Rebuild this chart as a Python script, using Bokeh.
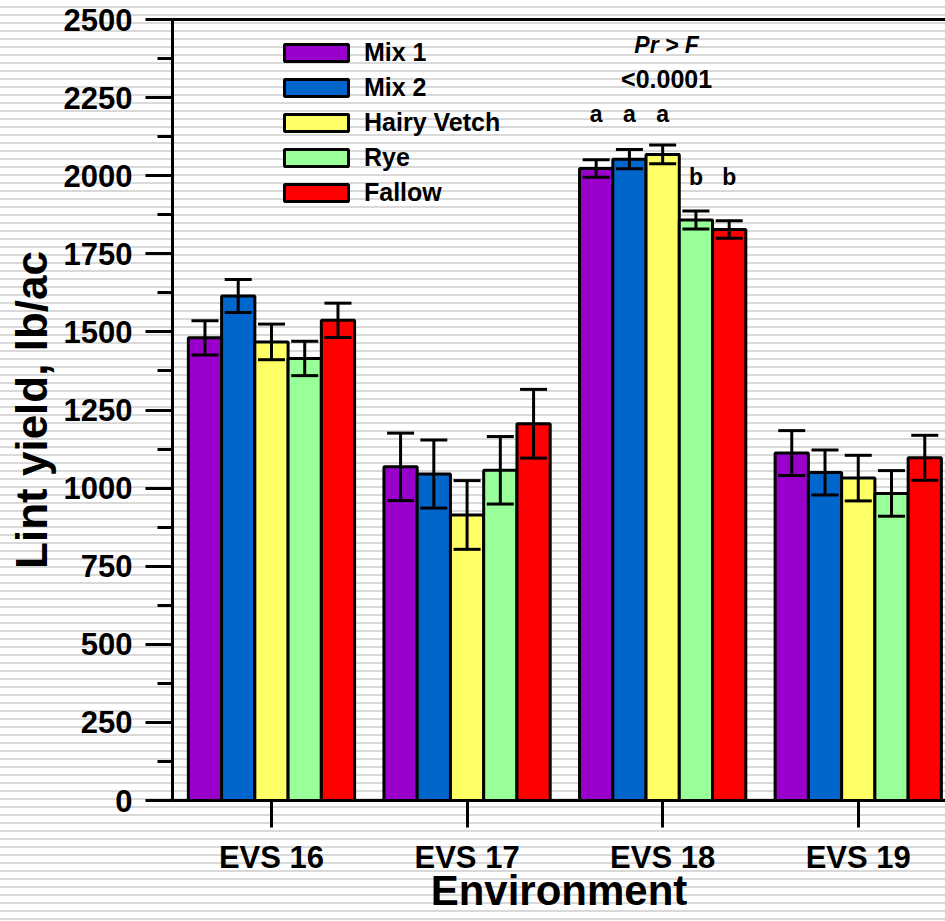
from bokeh.plotting import figure
from bokeh.models import (Range1d, FixedTicker, SingleIntervalTicker, LinearAxis, Legend,
                          LegendItem, ColumnDataSource, Whisker, TeeHead, Label)
from bokeh.embed import file_html
from bokeh.resources import INLINE
from bokeh.core.properties import value

# ---------------- data ----------------
environments = ["EVS 16", "EVS 17", "EVS 18", "EVS 19"]
treatments = ["Mix 1", "Mix 2", "Hairy Vetch", "Rye", "Fallow"]
colors = ["#9900CC", "#0066CC", "#FFFF66", "#99FF99", "#FF0000"]

mix1 = [1481, 1068, 2023, 1112]
mix2 = [1615, 1045, 2053, 1050]
hairy_vetch = [1468, 914, 2068, 1032]
rye = [1415, 1057, 1858, 983]
fallow = [1537, 1206, 1828, 1097]

mix1_se = [55, 108, 28, 72]
mix2_se = [53, 109, 31, 72]
hairy_vetch_se = [57, 110, 30, 73]
rye_se = [55, 108, 29, 73]
fallow_se = [55, 110, 28, 72]

sig_letters_evs18 = ["a", "a", "a", "b", "b"]
sig_letter_y = [2197, 2197, 2197, 1996, 1996]
pr_f_label = "Pr > F"
p_value_label = "<0.0001"

y_ticks_interval = 250
# --------------------------------------

FONT = "Liberation Sans"
W, H = 945, 921
n = len(treatments)
bar_w = 0.170
centers = [i + 0.5 for i in range(len(environments))]

p = figure(width=W, height=H, output_backend="svg", toolbar_location=None,
           x_range=Range1d(-0.006, 3.946), y_range=Range1d(0, 2500),
           min_border_left=172, min_border_right=0, min_border_top=19, min_border_bottom=121)
p.outline_line_color = None
p.grid.visible = False
p.background_fill_alpha = 0
p.border_fill_alpha = 0
# light horizontal stripes over the whole picture
p.styles = {"background-color": "#ffffff",
            "background-image": "repeating-linear-gradient(to bottom, #ffffff 0px, #ffffff 6px, "
                                "#d9d9d9 6px, #d9d9d9 8px)"}

# y axis
yax = p.yaxis[0]
yax.ticker = SingleIntervalTicker(interval=y_ticks_interval, num_minor_ticks=2)
yax.axis_line_width = 3
yax.axis_line_color = "black"
yax.major_tick_line_width = 3
yax.minor_tick_line_width = 3
yax.major_tick_out = 27
yax.major_tick_in = 0
yax.minor_tick_out = 15
yax.minor_tick_in = 0
yax.major_label_text_font = FONT
yax.major_label_text_font_style = "bold"
yax.major_label_text_font_size = "31px"
yax.major_label_text_color = "black"
yax.major_label_standoff = 13
yax.axis_label = "Lint yield, lb/ac"
yax.axis_label_text_font = FONT
yax.axis_label_text_font_style = "bold"
yax.axis_label_text_font_size = "44px"
yax.axis_label_text_color = "black"
yax.axis_label_standoff = 5

# x axis
xax = p.xaxis[0]
xax.ticker = FixedTicker(ticks=centers, minor_ticks=[])
xax.major_label_overrides = {c: e for c, e in zip(centers, environments)}
xax.axis_line_width = 3
xax.axis_line_color = "black"
xax.major_tick_line_width = 3
xax.major_tick_out = 27
xax.major_tick_in = 0
xax.minor_tick_out = 0
xax.minor_tick_in = 0
xax.major_label_text_font = FONT
xax.major_label_text_font_style = "bold"
xax.major_label_text_font_size = "31px"
xax.major_label_text_color = "black"
xax.major_label_standoff = 12
xax.axis_label = "Environment"
xax.axis_label_text_font = FONT
xax.axis_label_text_font_style = "bold"
xax.axis_label_text_font_size = "42px"
xax.axis_label_text_color = "black"
xax.axis_label_standoff = -11

# top border line
top_axis = LinearAxis(ticker=FixedTicker(ticks=[]), major_tick_out=0, major_tick_in=0,
                      minor_tick_out=0, minor_tick_in=0, major_label_text_font_size="0px",
                      axis_line_width=3, axis_line_color="black", major_label_standoff=0)
p.add_layout(top_axis, "above")

series = [mix1, mix2, hairy_vetch, rye, fallow]
errors = [mix1_se, mix2_se, hairy_vetch_se, rye_se, fallow_se]

items = []
bar_x_by_series = []
for k, (name, vals, errs, col) in enumerate(zip(treatments, series, errors, colors)):
    xs = [c + (k - (n - 1) / 2) * bar_w for c in centers]
    bar_x_by_series.append(xs)
    src = ColumnDataSource(dict(x=xs, top=vals,
                                upper=[v + e for v, e in zip(vals, errs)],
                                lower=[v - e for v, e in zip(vals, errs)]))
    r = p.vbar(x="x", top="top", bottom=0, width=bar_w, source=src,
               fill_color=col, line_color="black", line_width=3)
    wk = Whisker(source=src, base="x", upper="upper", lower="lower",
                 line_color="black", line_width=3, level="overlay",
                 upper_head=TeeHead(size=27, line_width=3, line_color="black"),
                 lower_head=TeeHead(size=27, line_width=3, line_color="black"))
    p.add_layout(wk)
    items.append(LegendItem(label=name, renderers=[r]))

# significance letters for EVS 18
evs18 = environments.index("EVS 18")
p.text(x=[bar_x_by_series[k][evs18] for k in range(n)], y=sig_letter_y, text=sig_letters_evs18,
       text_font=value(FONT), text_font_style="bold", text_font_size="23px",
       text_align="center", text_baseline="middle", text_color="black")

p.add_layout(Label(x=centers[evs18] + 0.02, y=2418, text=pr_f_label,
                   text_font=FONT, text_font_style="bold italic", text_font_size="23px",
                   text_align="center", text_baseline="middle", text_color="black"))
p.add_layout(Label(x=centers[evs18] + 0.02, y=2309, text=p_value_label,
                   text_font=FONT, text_font_style="bold", text_font_size="25px",
                   text_align="center", text_baseline="middle", text_color="black"))

legend = Legend(items=items, location=(104, 593), orientation="vertical",
                padding=0, margin=0, spacing=6, glyph_width=80, glyph_height=21,
                label_height=29, label_standoff=8,
                label_text_font=FONT, label_text_font_style="bold", label_text_font_size="25px",
                label_text_color="black", border_line_color=None, background_fill_alpha=0)
p.add_layout(legend)

open("out.html", "w").write(file_html(p, INLINE))
